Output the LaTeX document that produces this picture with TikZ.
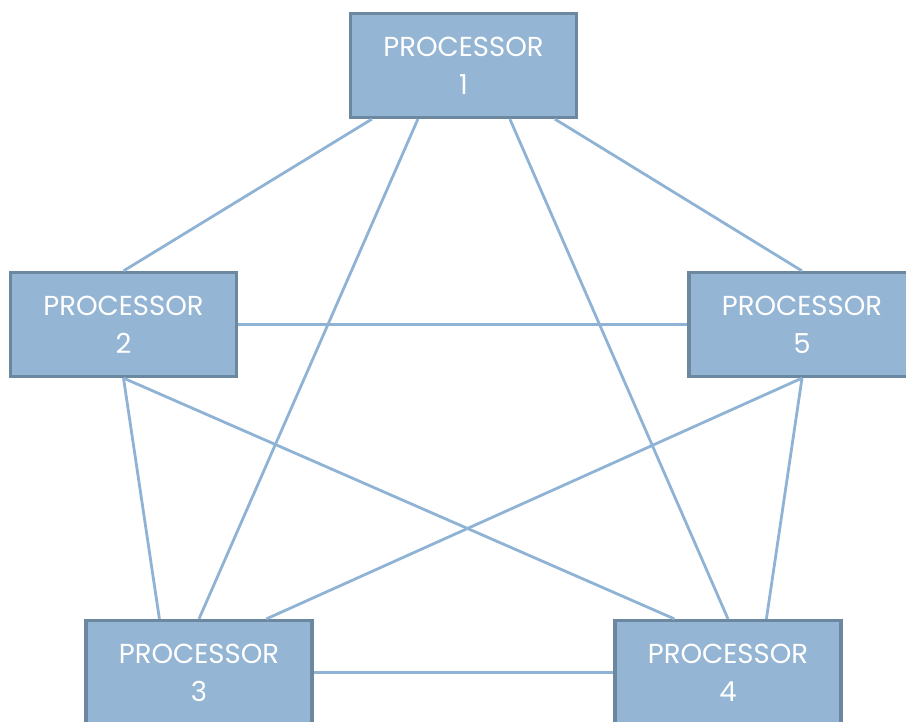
\documentclass[tikz,border=0pt]{standalone}
\usepackage{fontspec}
\setmainfont{Poppins}
\usetikzlibrary{calc}
\definecolor{boxfill}{HTML}{94B5D3}
\definecolor{boxline}{HTML}{6C87A0}
\definecolor{link}{HTML}{8FB3D4}
\tikzset{
  proc/.style={draw=boxline, line width=3.2pt, fill=boxfill, minimum width=226pt, minimum height=104pt,
    inner sep=0pt, text=white, align=center, font=\fontsize{27.5}{38}\selectfont},
  conn/.style={draw=link, line width=2.8pt}
}
\begin{document}
\begin{tikzpicture}[x=1pt,y=-1pt]
\useasboundingbox (0,0) rectangle (906,722);
\clip (0,0) rectangle (906,722);
\node[proc] (p1) at (463.5,65.5) {PROCESSOR\\1};
\node[proc] (p2) at (123.5,324.5) {PROCESSOR\\2};
\node[proc] (p5) at (802,324.5) {PROCESSOR\\5};
\node[proc] (p3) at (199,672.5) {PROCESSOR\\3};
\node[proc] (p4) at (728,672.5) {PROCESSOR\\4};
\path[conn] ([xshift=23pt]p1.south west) -- (p2.north);
\path[conn] ([xshift=69pt]p1.south west) -- (p3.north);
\path[conn] ([xshift=161pt]p1.south west) -- (p4.north);
\path[conn] ([xshift=206pt]p1.south west) -- (p5.north);
\path[conn] (p2.east) -- (p5.west);
\path[conn] (p2.south) -- ([xshift=75pt]p3.north west);
\path[conn] (p2.south) -- ([xshift=61pt]p4.north west);
\path[conn] (p5.south) -- ([xshift=182pt]p3.north west);
\path[conn] (p5.south) -- ([xshift=153pt]p4.north west);
\path[conn] (p3.east) -- (p4.west);
\end{tikzpicture}
\end{document}
